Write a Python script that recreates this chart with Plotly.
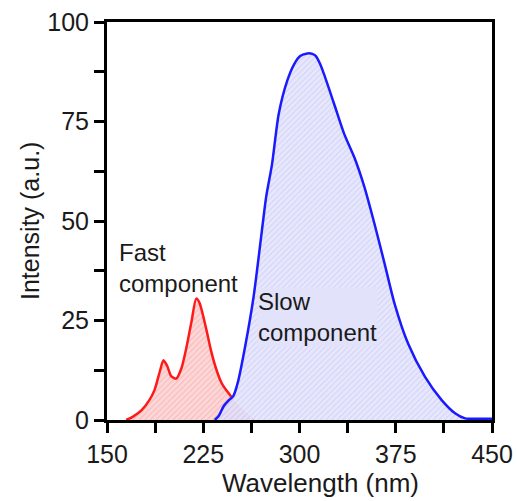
import plotly.graph_objects as go

# Fast component (red)
fast_wl = [165, 170, 177, 183, 187, 191, 194, 197, 200, 204, 208, 212, 216, 219.5,
           222, 227.5, 231, 235.4, 239, 242, 247, 252, 258, 262, 266]
fast_int = [0, 0.8, 2.5, 5, 7.5, 12, 15, 13.5, 11, 10.4, 13, 18.4, 25, 30.5,
            29.5, 22.6, 17.5, 12.5, 9.5, 7.9, 5.8, 4, 2, 1, 0]

# Slow component (blue)
slow_wl = [234, 237, 241, 245, 248.4, 252, 257.6, 264.2, 270.7, 274, 278.6, 283.8,
           290.4, 296, 300.8, 306.1, 310, 312.6, 316, 319.1, 327, 334.8, 342.7,
           350.6, 358.4, 366.3, 374.1, 384.6, 397.7, 410.8, 421.2, 429.1, 440, 450]
slow_int = [0, 1, 3.5, 5, 6, 9.5, 18.4, 30.9, 47.6, 56, 64.3, 76.9,
            85.2, 89.5, 91.5, 92.1, 92, 91.5, 89.5, 86.9, 79.4, 71.9, 66,
            58.5, 49.3, 39.3, 29.2, 19.2, 10.9, 5, 1.7, 0.4, 0.3, 0.3]

x_ticks = [150 + 37.5 * i for i in range(9)]
x_labels = ["150", "", "225", "", "300", "", "375", "", "450"]
y_ticks = [12.5 * i for i in range(9)]
y_labels = ["0", "", "25", "", "50", "", "75", "", "100"]

FONT = "Liberation Sans, Arial, sans-serif"
TXT = "#1a1a1a"

fig = go.Figure()

# red fill
fig.add_trace(go.Scatter(
    x=fast_wl, y=fast_int, mode="lines", line=dict(width=0, shape="spline", smoothing=0.7),
    fill="tozeroy", fillcolor="rgba(252,210,210,0.9)",
    fillpattern=dict(shape="/", fgcolor="rgba(240,120,120,0.6)", bgcolor="rgba(253,212,212,0.9)",
                     size=4, solidity=0.3),
    hoverinfo="skip", showlegend=False))

# blue fill
fig.add_trace(go.Scatter(
    x=slow_wl, y=slow_int, mode="lines", line=dict(width=0, shape="spline", smoothing=0.7),
    fill="tozeroy", fillcolor="rgba(224,224,250,0.8)",
    fillpattern=dict(shape="/", fgcolor="rgba(165,165,240,0.6)", bgcolor="rgba(226,226,251,0.8)",
                     size=4, solidity=0.3),
    hoverinfo="skip", showlegend=False))

# red line up to the crossing
cut = [i for i, w in enumerate(fast_wl) if w <= 247]
fig.add_trace(go.Scatter(
    x=[fast_wl[i] for i in cut], y=[fast_int[i] for i in cut], mode="lines",
    line=dict(color="#ff1a1a", width=2.5, shape="spline", smoothing=0.7),
    hoverinfo="skip", showlegend=False))

# blue line
fig.add_trace(go.Scatter(
    x=slow_wl, y=slow_int, mode="lines",
    line=dict(color="#1a1aff", width=2.5, shape="spline", smoothing=0.7),
    hoverinfo="skip", showlegend=False))

fig.add_annotation(x=157.5, y=38.3, xref="x", yref="y", text="Fast<br>component",
                   showarrow=False, xanchor="left", yanchor="middle", align="left",
                   font=dict(family=FONT, size=24, color=TXT))
fig.add_annotation(x=266.5, y=25.8, xref="x", yref="y", text="Slow<br>component",
                   showarrow=False, xanchor="left", yanchor="middle", align="left",
                   bgcolor="rgba(226,226,251,1)", borderpad=0,
                   font=dict(family=FONT, size=24, color=TXT))

# axis titles
fig.add_annotation(x=(320 - 107) / 385, y=-(483 - 420) / 398, xref="paper", yref="paper",
                   text="Wavelength (nm)", showarrow=False, xanchor="center", yanchor="middle",
                   font=dict(family=FONT, size=26, color=TXT))
fig.add_annotation(x=-(107 - 30) / 385, y=0.5, xref="paper", yref="paper",
                   text="Intensity (a.u.)", showarrow=False, textangle=-90,
                   xanchor="center", yanchor="middle",
                   font=dict(family=FONT, size=25, color=TXT))

axis_common = dict(showline=True, linecolor="black", linewidth=3, mirror=True,
                   ticks="outside", ticklen=10, tickwidth=2.5, tickcolor="black",
                   showgrid=False, zeroline=False, automargin=False,
                   tickfont=dict(family=FONT, size=25, color=TXT))

fig.update_xaxes(range=[150, 450], tickvals=x_ticks, ticktext=x_labels, **axis_common)
fig.update_yaxes(range=[0, 100], tickvals=y_ticks, ticktext=y_labels, **axis_common)

fig.update_layout(width=517, height=501, margin=dict(l=107, r=25, t=22, b=81),
                  plot_bgcolor="white", paper_bgcolor="white")

fig.write_html("out.html")
